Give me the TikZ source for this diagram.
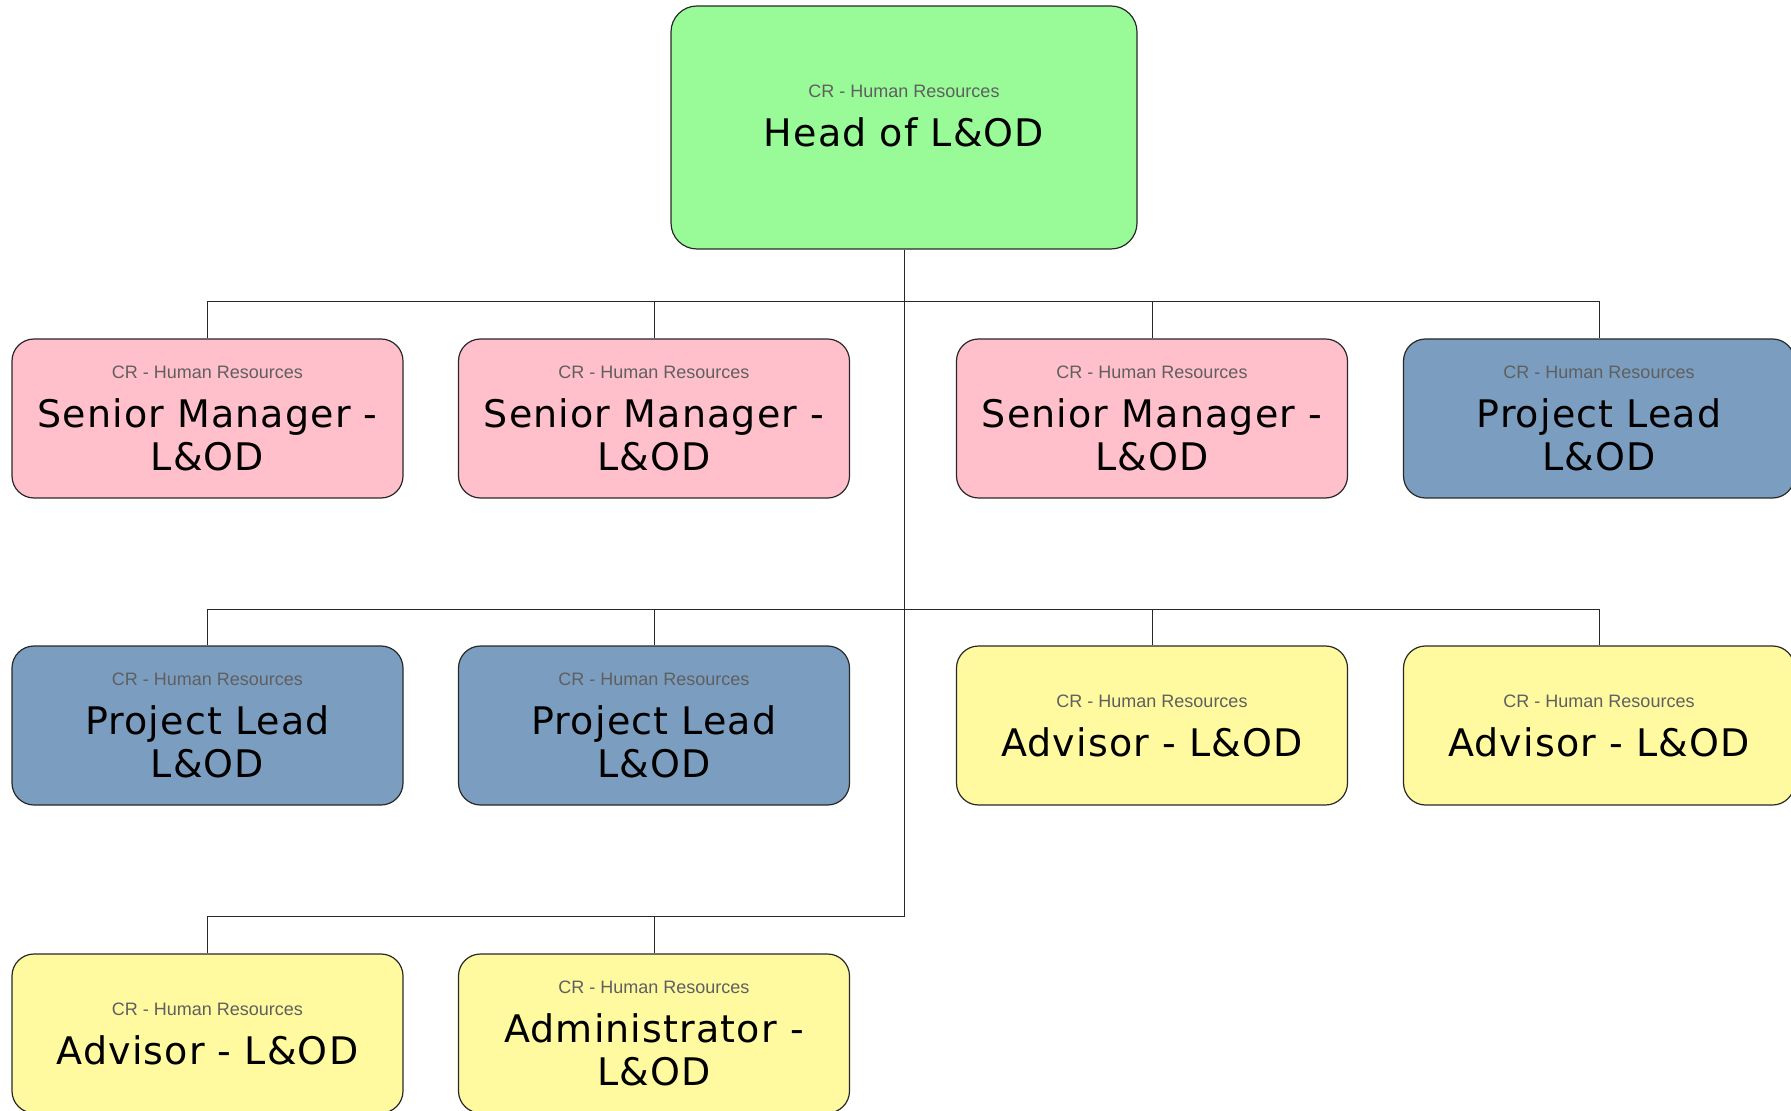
\documentclass[tikz,border=0pt]{standalone}
\usepackage{fontspec}
\setmainfont[LetterSpace=3]{DejaVu Sans}
\newfontfamily\crfont{Liberation Sans}
\usepackage{tikz}
\usetikzlibrary{positioning}

\definecolor{headgreen}{RGB}{152,251,152}
\definecolor{smpink}{RGB}{255,192,203}
\definecolor{plblue}{RGB}{123,158,192}
\definecolor{advyellow}{RGB}{255,250,160}
\definecolor{crgray}{RGB}{95,95,95}
\definecolor{edgegray}{RGB}{40,40,40}

\newcommand{\crline}{{\crfont\fontsize{9}{10}\selectfont\color{crgray}CR - Human Resources}\\[3pt]}

\begin{document}
\begin{tikzpicture}[node distance=150pt,on grid,
        every role/.style={draw=edgegray,line width=0.6pt,rounded corners=11pt,
          minimum width=195.5pt,minimum height=79.5pt,inner sep=0pt,align=center,
          font=\fontsize{19}{21.5}\selectfont},
        headrole/.style={every role,fill=headgreen,minimum width=233pt,minimum height=121.5pt,rounded corners=13pt},
        smrole/.style={every role,fill=smpink},
        plrole/.style={every role,fill=plblue},
        advrole/.style={every role,fill=advyellow},
        link/.style={draw=edgegray,line width=0.5pt}]

      \useasboundingbox (0,0) rectangle (895.5pt,-555.5pt);

      \node[headrole] (head) at (452pt,-63.75pt) {\crline Head of L\&OD\\[-10pt]};

      % first row
      \node[smrole] (sm1) at (103.75pt,-209.25pt) {\crline Senior Manager -\\L\&OD};
      \node[smrole] (sm2) [right=223.25pt of sm1] {\crline Senior Manager -\\L\&OD};
      \node[smrole] (sm3) [right=249pt of sm2] {\crline Senior Manager -\\L\&OD};
      \node[plrole] (pl1) [right=223.5pt of sm3] {\crline Project Lead\\L\&OD};

      % second row
      \node[plrole] (pl2) [below=153.5pt of sm1] {\crline Project Lead\\L\&OD};
      \node[plrole] (pl3) [below=153.5pt of sm2] {\crline Project Lead\\L\&OD};
      \node[advrole] (adv1) [below=153.5pt of sm3] {\crline Advisor - L\&OD};
      \node[advrole] (adv2) [below=153.5pt of pl1] {\crline Advisor - L\&OD};

      % third row
      \node[advrole] (adv3) [below=154pt of pl2] {\crline Advisor - L\&OD};
      \node[advrole] (admin) [below=154pt of pl3] {\crline Administrator -\\L\&OD};

      \coordinate (bus1) at (0,-151pt);
      \coordinate (bus2) at (0,-304.5pt);
      \coordinate (bus3) at (0,-458pt);

      \path[link] (head.south) -- (head.south |- bus3) -- (adv3.north |- bus3) -- (adv3.north);
      \path[link] (sm1.north) -- (sm1.north |- bus1) -- (pl1.north |- bus1) -- (pl1.north);
      \path[link] (pl2.north) -- (pl2.north |- bus2) -- (adv2.north |- bus2) -- (adv2.north);
      \foreach \n in {sm2,sm3} \path[link] (\n.north) -- (\n.north |- bus1);
      \foreach \n in {pl3,adv1} \path[link] (\n.north) -- (\n.north |- bus2);
      \path[link] (admin.north) -- (admin.north |- bus3);
\end{tikzpicture}
\end{document}
